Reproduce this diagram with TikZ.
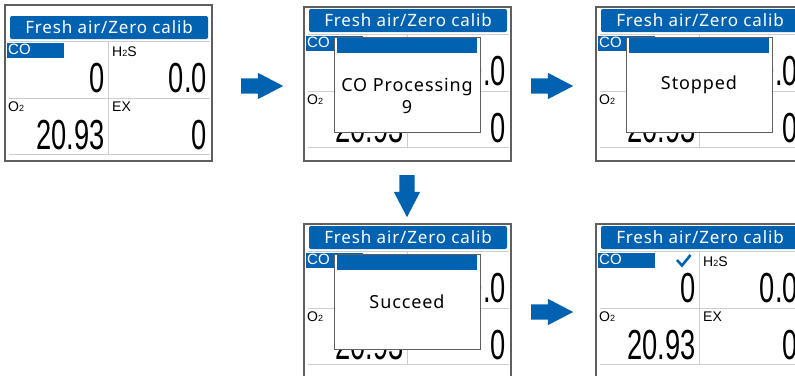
\documentclass[tikz,border=0pt]{standalone}
\usepackage{fontspec}
\setmainfont{Noto Sans}[LetterSpace=5]
\newfontfamily\arialfont{Liberation Sans}
\usetikzlibrary{shapes.arrows}

\definecolor{hmiblue}{RGB}{0,98,176}
\definecolor{hmigrid}{RGB}{205,205,205}
\definecolor{hmiframe}{RGB}{95,95,95}

% one gas detector screen, names prefixed with #1
\newcommand{\gasscreen}[1]{%
	\node [titlebar] (#1title) at (104,13.5) {Fresh air/Zero calib};
	\draw [gridline] (4,27) -- (205,27) (4,84) -- (205,84) (4,140) -- (205,140) (103,27) -- (103,140);
	\node [colabel] (#1co) at (2,29) {CO};
	\node [gaslabel] (#1hs) at (106,38) {H{\fontsize{9}{9}\selectfont 2}S};
	\node [gaslabel] (#1ot) at (2,93) {O{\fontsize{9}{9}\selectfont 2}};
	\node [gaslabel] (#1ex) at (106,93) {EX};
	\node [reading] (#1vco) at (100,64) {\scalebox{0.65}[1]{0}};
	\node [reading] (#1vhs) at (202,64) {\scalebox{0.65}[1]{0.0}};
	\node [reading] (#1vot) at (100,121) {\scalebox{0.65}[1]{20.93}};
	\node [reading] (#1vex) at (202,121) {\scalebox{0.65}[1]{0}};
}

\begin{document}
\begin{tikzpicture}[x=1pt,y=-1pt]
		\tikzstyle{frame}=[draw=hmiframe, line width=1.2pt, fill=white]
		\tikzstyle{titlebar}=[fill=hmiblue, rounded corners=2pt, minimum width=198pt, minimum height=23pt, inner sep=0pt, text=white, font=\fontsize{17}{17}\selectfont]
		\tikzstyle{gridline}=[draw=hmigrid, line width=0.9pt]
		\tikzstyle{colabel}=[fill=hmiblue, anchor=north west, text width=55pt, text height=10.5pt, text depth=2.5pt, inner sep=1pt, text=white, font=\arialfont\fontsize{15}{15}\selectfont]
		\tikzstyle{gaslabel}=[anchor=west, inner sep=1pt, font=\arialfont\fontsize{14}{14}\selectfont]
		\tikzstyle{reading}=[anchor=east, inner sep=0pt, font=\arialfont\fontsize{42}{42}\selectfont]
		\tikzstyle{popup}=[draw=hmiframe, line width=0.9pt, fill=white, minimum width=146pt, minimum height=95pt, inner sep=0pt]
		\tikzstyle{popbar}=[fill=hmiblue, minimum width=140pt, minimum height=15pt, inner sep=0pt]
		\tikzstyle{poptext}=[align=center, font=\fontsize{18}{22}\selectfont]
		\tikzstyle{blkarrow}=[single arrow, fill=hmiblue, minimum height=42pt, minimum width=26pt, single arrow head extend=5.5pt, single arrow tip angle=55, inner xsep=0pt, inner ysep=7.5pt, anchor=tail]
		\tikzstyle{blkdown}=[blkarrow, shape border rotate=270, inner xsep=7.5pt, inner ysep=0pt]

		\clip (0,0) rectangle (795,375);

		% normal screen
		\begin{scope}[shift={(5,5)}]
			\draw [frame] (0,0) rectangle (207,156);
			\begin{scope}[shift={(0,9)}]
				\gasscreen{a}
			\end{scope}
		\end{scope}

		% processing
		\begin{scope}[shift={(304,7)}]
			\draw [frame] (0,0) rectangle (207,154);
			\gasscreen{b}
			\node [popup] (bpop) at (103,77.5) {};
			\node [popbar] (bbar) at (103,38.5) {};
			\node [poptext] (btext) at (103,89) {CO Processing\\9};
		\end{scope}

		% stopped
		\begin{scope}[shift={(596,7)}]
			\draw [frame] (0,0) rectangle (207,154);
			\gasscreen{c}
			\node [popup] (cpop) at (103,77.5) {};
			\node [popbar] (cbar) at (103,38.5) {};
			\node [poptext] (ctext) at (103,78) {Stopped};
		\end{scope}

		% succeed
		\begin{scope}[shift={(304,224)}]
			\draw [frame] (0,0) rectangle (207,154);
			\gasscreen{d}
			\node [popup] (dpop) at (103,77.5) {};
			\node [popbar] (dbar) at (103,38.5) {};
			\node [poptext] (dtext) at (103,78) {Succeed};
		\end{scope}

		% calibrated
		\begin{scope}[shift={(596,224)}]
			\draw [frame] (0,0) rectangle (207,154);
			\gasscreen{e}
			\draw [hmiblue, line width=2.6pt] (81,36) -- (86,41.5) -- (94.5,31);
		\end{scope}

		\node [blkarrow] (ab) at (241,86) {};
		\node [blkarrow] (bc) at (531,86) {};
		\node [blkdown] (bd) at (407,175) {};
		\node [blkarrow] (de) at (531,312) {};
	\end{tikzpicture}
\end{document}
